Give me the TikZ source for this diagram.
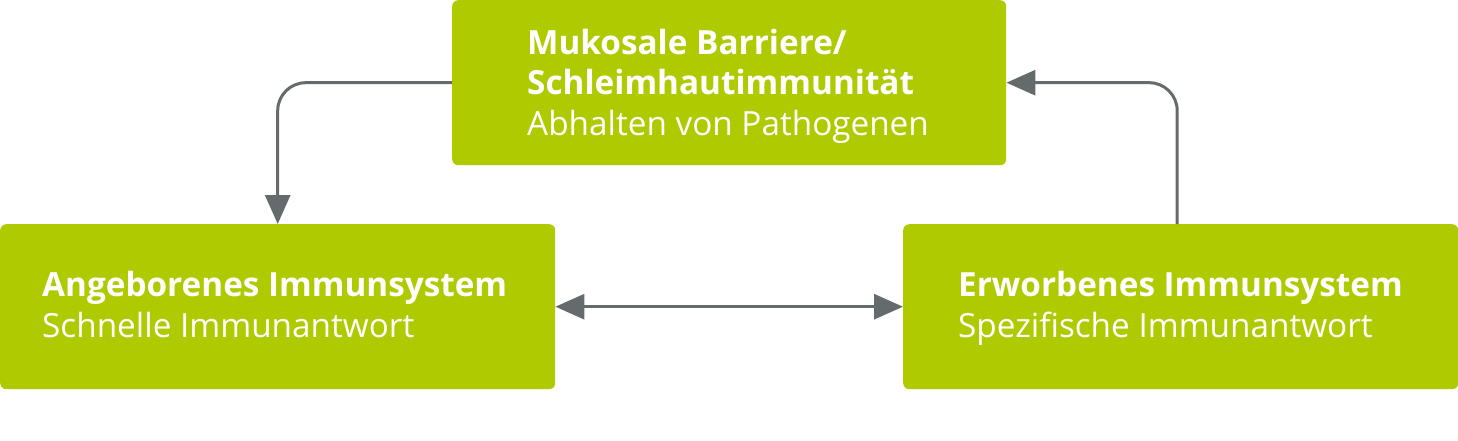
\documentclass[tikz,border=0pt]{standalone}
\usepackage{fontspec}
\setmainfont{Open Sans}
\usetikzlibrary{arrows.meta}
\definecolor{boxgreen}{RGB}{176,202,2}
\definecolor{arrgray}{RGB}{101,106,109}
\begin{document}
\begin{tikzpicture}[x=1pt,y=-1pt,
  box/.style={fill=boxgreen, rounded corners=6pt, inner sep=0pt, anchor=north west},
  hd/.style={text=white, inner sep=0pt, anchor=base west, font=\fontsize{33.3}{40}\selectfont\bfseries},
  sub/.style={text=white, inner sep=0pt, anchor=base west, font=\fontsize{33.3}{40}\selectfont},
  conn/.style={draw=arrgray, line width=3pt, rounded corners=28pt},
  tip/.style={-{Triangle[length=29pt,width=25pt]}}]
\useasboundingbox (0,0) rectangle (1458,440);
\node[box, minimum width=554pt, minimum height=165pt] (top) at (452,0) {};
\node[box, minimum width=555pt, minimum height=165pt] (left) at (0,224) {};
\node[box, minimum width=555pt, minimum height=165pt] (right) at (903,224) {};
\node[hd] (t1) at (527,54) {Mukosale Barriere/};
\node[hd] (t2) at (527,94) {Schleimhautimmunität};
\node[sub] (t3) at (527,135) {Abhalten von Pathogenen};
\node[hd] (l1) at (42,296) {Angeborenes Immunsystem};
\node[sub] (l2) at (42,337) {Schnelle Immunantwort};
\node[hd] (r1) at (958,296) {Erworbenes Immunsystem};
\node[sub] (r2) at (958,337) {Spezifische Immunantwort};
\draw[conn, tip] (top.west) -| (left.north);
\draw[conn, tip] ([xshift=-3.5pt]right.north) |- (top.east);
\draw[conn, {Triangle[length=29pt,width=25pt]}-{Triangle[length=29pt,width=25pt]}] (left.east) -- (right.west);
\end{tikzpicture}
\end{document}
